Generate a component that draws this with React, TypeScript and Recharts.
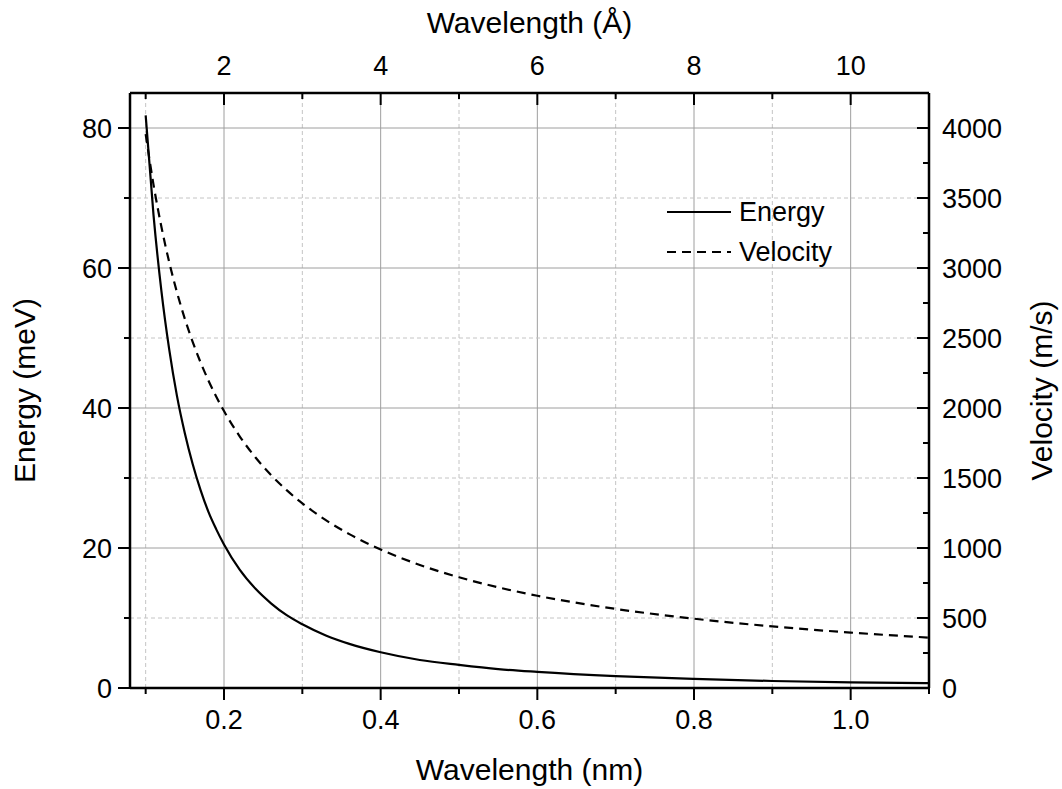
import React from "react";
import { LineChart, Line, XAxis, YAxis, ReferenceLine, Legend, Label } from "recharts";

const wavelengthNm = [
  0.1, 0.11, 0.12, 0.13, 0.14, 0.15, 0.16, 0.17, 0.18, 0.19, 0.2, 0.22, 0.24, 0.26,
  0.28, 0.3, 0.33, 0.36, 0.4, 0.45, 0.5, 0.55, 0.6, 0.7, 0.8, 0.9, 1.0, 1.1
];
const energyMeV = [
  81.8, 67.6, 56.8, 48.4, 41.7, 36.4, 32.0, 28.3, 25.2, 22.7, 20.5, 16.9, 14.2, 12.1,
  10.4, 9.1, 7.5, 6.3, 5.1, 4.0, 3.3, 2.7, 2.3, 1.7, 1.3, 1.0, 0.8, 0.7
];
const velocityMs = [
  3956, 3596, 3297, 3043, 2826, 2637, 2473, 2327, 2198, 2082, 1978, 1798, 1648, 1522,
  1413, 1319, 1199, 1099, 989, 879, 791, 719, 659, 565, 495, 440, 396, 360
];

const nmTicks = [0.1, 0.2, 0.3, 0.4, 0.5, 0.6, 0.7, 0.8, 0.9, 1.0, 1.1];
const nmMajor = [0.2, 0.4, 0.6, 0.8, 1.0];
const nmMinorGrid = [0.1, 0.3, 0.5, 0.7, 0.9];
const angstromTicks = [1, 2, 3, 4, 5, 6, 7, 8, 9, 10, 11];
const angstromMajor = [2, 4, 6, 8, 10];
const energyTicks = [0, 10, 20, 30, 40, 50, 60, 70, 80];
const energyMajor = [0, 20, 40, 60, 80];
const energyMinorGrid = [10, 30, 50, 70];
const energyMajorGrid = [20, 40, 60, 80];
const velocityTicks = [0, 250, 500, 750, 1000, 1250, 1500, 1750, 2000, 2250, 2500, 2750, 3000, 3250, 3500, 3750, 4000];
const velocityMajor = [0, 500, 1000, 1500, 2000, 2500, 3000, 3500, 4000];

// 1 nm = 10 Å, the top axis is the same wavelength in ångström
const data = wavelengthNm.map((nm, i) => ({
  nm,
  angstrom: nm * 10,
  energy: energyMeV[i],
  velocity: velocityMs[i]
}));

const FONT = "'Liberation Sans', Arial, Helvetica, sans-serif";
const TICK_FS = 27;
const TITLE_FS = 30;
const MAJOR = 12;
const MINOR = 6;

function BottomTick({ x, y, payload }: any) {
  const major = nmMajor.includes(payload.value);
  return (
    <g>
      <line x1={x} x2={x} y1={y} y2={y + (major ? MAJOR : MINOR)} stroke="#000" strokeWidth={2} />
      {major && (
        <text x={x} y={y + 41} textAnchor="middle" fontSize={TICK_FS} fontFamily={FONT} fill="#000">
          {payload.value.toFixed(1)}
        </text>
      )}
    </g>
  );
}

function TopTick({ x, y, payload }: any) {
  const major = angstromMajor.includes(payload.value);
  return (
    <g>
      <line x1={x} x2={x} y1={y} y2={y + (major ? MAJOR : MINOR)} stroke="#000" strokeWidth={2} />
      {major && (
        <text x={x} y={y - 18} textAnchor="middle" fontSize={TICK_FS} fontFamily={FONT} fill="#000">
          {payload.value}
        </text>
      )}
    </g>
  );
}

function LeftTick({ x, y, payload }: any) {
  const major = energyMajor.includes(payload.value);
  return (
    <g>
      <line x1={x - (major ? MAJOR : MINOR)} x2={x} y1={y} y2={y} stroke="#000" strokeWidth={2} />
      {major && (
        <text x={x - 18} y={y} dy="0.36em" textAnchor="end" fontSize={TICK_FS} fontFamily={FONT} fill="#000">
          {payload.value}
        </text>
      )}
    </g>
  );
}

function RightTick({ x, y, payload }: any) {
  const major = velocityMajor.includes(payload.value);
  return (
    <g>
      <line x1={x - (major ? MAJOR : MINOR)} x2={x} y1={y} y2={y} stroke="#000" strokeWidth={2} />
      {major && (
        <text x={x + 13} y={y} dy="0.36em" textAnchor="start" fontSize={TICK_FS} fontFamily={FONT} fill="#000">
          {payload.value}
        </text>
      )}
    </g>
  );
}

const titleStyle = { fontSize: TITLE_FS, fontFamily: FONT, fill: "#000" };

const renderLegend = (props: any) => {
  const items = props.payload || [];
  return (
    <div style={{ fontFamily: FONT, fontSize: TICK_FS, color: "#000" }}>
      {items.map((entry: any) => (
        <div key={entry.value} style={{ display: "flex", alignItems: "center", height: 40 }}>
          <svg width={66} height={10} style={{ display: "block" }}>
            <line
              x1={0}
              x2={64}
              y1={5}
              y2={5}
              stroke="#000"
              strokeWidth={2}
              strokeDasharray={entry.payload?.strokeDasharray}
            />
          </svg>
          <span style={{ marginLeft: 6, lineHeight: "40px" }}>{entry.value}</span>
        </div>
      ))}
    </div>
  );
};

export default function App() {
  return (
    <div style={{ position: "absolute", left: 0, top: 0, background: "#fff" }}>
      <LineChart width={1062} height={789} data={data} margin={{ top: 0, right: 0, bottom: 0, left: 0 }}>
        {nmMinorGrid.map((v) => (
          <ReferenceLine key={"vx" + v} x={v} xAxisId="bottom" yAxisId="left" stroke="#c4c4c4" strokeDasharray="4 3" />
        ))}
        {nmMajor.map((v) => (
          <ReferenceLine key={"vX" + v} x={v} xAxisId="bottom" yAxisId="left" stroke="#9e9e9e" />
        ))}
        {energyMinorGrid.map((v) => (
          <ReferenceLine key={"hy" + v} y={v} xAxisId="bottom" yAxisId="left" stroke="#c4c4c4" strokeDasharray="4 3" />
        ))}
        {energyMajorGrid.map((v) => (
          <ReferenceLine key={"hY" + v} y={v} xAxisId="bottom" yAxisId="left" stroke="#9e9e9e" />
        ))}
        <XAxis
          xAxisId="bottom"
          dataKey="nm"
          type="number"
          domain={[0.08, 1.1]}
          allowDataOverflow
          ticks={nmTicks}
          interval={0}
          height={101}
          tickSize={0}
          tickMargin={0}
          tickLine={false}
          tick={BottomTick}
          axisLine={{ stroke: "#000", strokeWidth: 2.5 }}
        >
          <Label
            content={({ viewBox }: any) => (
              <text x={viewBox.x + viewBox.width / 2} y={viewBox.y + 92} textAnchor="middle" {...titleStyle}>
                Wavelength (nm)
              </text>
            )}
          />
        </XAxis>
        <XAxis
          xAxisId="top"
          dataKey="angstrom"
          orientation="top"
          type="number"
          domain={[0.8, 11]}
          allowDataOverflow
          ticks={angstromTicks}
          interval={0}
          height={93}
          tickSize={0}
          tickMargin={0}
          tickLine={false}
          tick={TopTick}
          axisLine={{ stroke: "#000", strokeWidth: 2.5 }}
        >
          <Label
            content={({ viewBox }: any) => (
              <text x={viewBox.x + viewBox.width / 2} y={viewBox.y + 33} textAnchor="middle" {...titleStyle}>
                Wavelength (Å)
              </text>
            )}
          />
        </XAxis>
        <YAxis
          yAxisId="left"
          type="number"
          domain={[0, 85]}
          allowDataOverflow
          ticks={energyTicks}
          interval={0}
          width={130}
          tickSize={0}
          tickMargin={0}
          tickLine={false}
          tick={LeftTick}
          axisLine={{ stroke: "#000", strokeWidth: 2.5 }}
        >
          <Label
            content={({ viewBox }: any) => {
              const cx = viewBox.x + 35;
              const cy = viewBox.y + viewBox.height / 2;
              return (
                <text x={cx} y={cy} textAnchor="middle" transform={`rotate(-90 ${cx} ${cy})`} {...titleStyle}>
                  Energy (meV)
                </text>
              );
            }}
          />
        </YAxis>
        <YAxis
          yAxisId="right"
          orientation="right"
          type="number"
          domain={[0, 4250]}
          allowDataOverflow
          ticks={velocityTicks}
          interval={0}
          width={133}
          tickSize={0}
          tickMargin={0}
          tickLine={false}
          tick={RightTick}
          axisLine={{ stroke: "#000", strokeWidth: 2.5 }}
        >
          <Label
            content={({ viewBox }: any) => {
              const cx = viewBox.x + 123;
              const cy = viewBox.y + viewBox.height / 2;
              return (
                <text x={cx} y={cy} textAnchor="middle" transform={`rotate(-90 ${cx} ${cy})`} {...titleStyle}>
                  Velocity (m/s)
                </text>
              );
            }}
          />
        </YAxis>
        <Legend
          layout="vertical"
          align="center"
          verticalAlign="middle"
          wrapperStyle={{ left: 667, top: 192, width: 220 }}
          content={renderLegend}
        />
        <Line
          name="Energy"
          type="monotone"
          dataKey="energy"
          xAxisId="bottom"
          yAxisId="left"
          stroke="#000"
          strokeWidth={2.2}
          dot={false}
          isAnimationActive={false}
        />
        <Line
          name="Velocity"
          type="monotone"
          dataKey="velocity"
          xAxisId="bottom"
          yAxisId="right"
          stroke="#000"
          strokeWidth={2.2}
          strokeDasharray="9 6"
          dot={false}
          isAnimationActive={false}
        />
      </LineChart>
    </div>
  );
}
